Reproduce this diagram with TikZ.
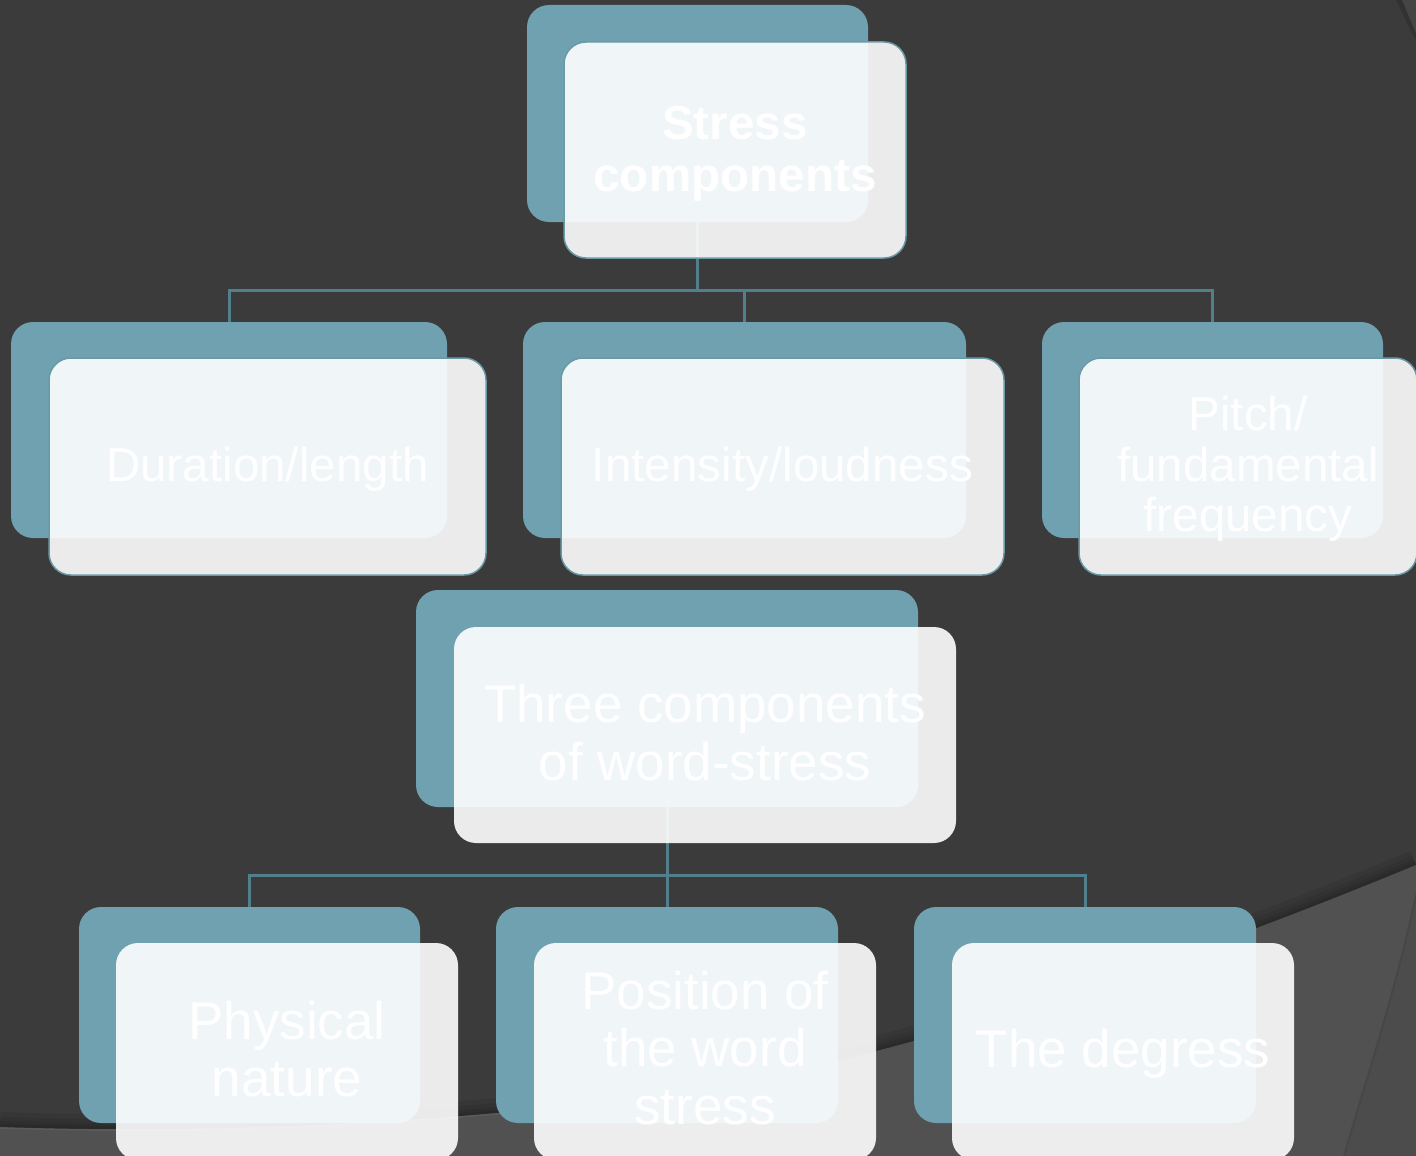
\documentclass[tikz,border=0pt]{standalone}
\usepackage{fontspec}
\setmainfont{Liberation Sans}
\definecolor{bgdark}{HTML}{3B3B3B}
\definecolor{bglight}{HTML}{515151}
\definecolor{bgright}{HTML}{4C4C4C}
\definecolor{cornergray}{HTML}{454545}
\definecolor{edgelight}{HTML}{5A5A5A}
\definecolor{edgedark}{HTML}{474747}
\definecolor{tealback}{HTML}{6FA1B0}
\definecolor{tealedge}{HTML}{6A9AA8}
\definecolor{connteal}{HTML}{527F8C}
\begin{document}
\begin{tikzpicture}[x=1pt,y=-1pt,
  backbox/.style={fill=tealback, rounded corners=22pt, inner sep=0pt, outer sep=0pt},
  frontbox/.style={fill=white, fill opacity=0.9, rounded corners=22pt, inner sep=0pt, outer sep=0pt},
  frontA/.style={frontbox, draw=tealedge, draw opacity=1, line width=1.5pt},
  conn/.style={draw=connteal, line width=3pt},
  txtA/.style={text=white, align=center, inner sep=0pt, font=\fontsize{47.6}{52}\selectfont},
  txtB/.style={text=white, align=center, inner sep=0pt, font=\fontsize{53}{57.5}\selectfont}
]
\useasboundingbox (0,0) rectangle (1416,1156);
% background
\fill[bgdark] (0,0) rectangle (1416,1156);
% top-right sliver
\fill[black, opacity=0.15] (1396,0) .. controls (1402,12) and (1408,26) .. (1416,40) -- (1416,0) -- cycle;
\fill[cornergray] (1402,0) .. controls (1407,11) and (1411,22) .. (1416,33) -- (1416,0) -- cycle;
% shadow along lower boundary
\foreach \w in {30,20,12,6}{
  \draw[black, opacity=0.07, line width=\w pt]
    (0,1127) .. controls (200,1134) and (450,1125) .. (700,1090)
    .. controls (900,1055) and (1150,975) .. (1416,865);
}
% lighter lower region
\fill[bglight] (0,1127) .. controls (200,1134) and (450,1125) .. (700,1090)
    .. controls (900,1055) and (1150,975) .. (1416,865) -- (1416,1156) -- (0,1156) -- cycle;
\draw[edgelight, line width=1.5pt] (0,1128) .. controls (200,1135) and (450,1126) .. (700,1091);
% right darker sliver
\fill[bgright] (1416,895) .. controls (1396,990) and (1366,1080) .. (1344,1156) -- (1416,1156) -- cycle;
\draw[edgedark, line width=2pt] (1416,895) .. controls (1396,990) and (1366,1080) .. (1344,1156);

% back boxes
\node[backbox, minimum width=341pt, minimum height=217pt] (sb) at (697.5,113.5) {};
\node[backbox, minimum width=436pt, minimum height=216pt] (db) at (229,430) {};
\node[backbox, minimum width=443pt, minimum height=216pt] (ib) at (744.5,430) {};
\node[backbox, minimum width=341pt, minimum height=216pt] (pb) at (1212.5,430) {};
\node[backbox, minimum width=502pt, minimum height=217pt] (tb) at (667,698.5) {};
\node[backbox, minimum width=341pt, minimum height=216pt] (phb) at (249.5,1015) {};
\node[backbox, minimum width=342pt, minimum height=216pt] (pob) at (667,1015) {};
\node[backbox, minimum width=342pt, minimum height=216pt] (deb) at (1085,1015) {};

% connectors
\coordinate (bus1) at (697.5,290);
\coordinate (bus2) at (667,875);
\draw[conn] (sb.south) -- (bus1);
\draw[conn] (bus1) -| (db.north);
\draw[conn] (bus1) -| (ib.north);
\draw[conn] (bus1) -| (pb.north);
\draw[conn] (tb.south) -- (bus2);
\draw[conn] (bus2) -| (phb.north);
\draw[conn] (bus2) -- (pob.north);
\draw[conn] (bus2) -| (deb.north);

% front boxes
\node[frontA, minimum width=342pt, minimum height=216pt] (sf) at (735,150) {};
\node[frontA, minimum width=437pt, minimum height=217pt] (df) at (267.5,466.5) {};
\node[frontA, minimum width=443pt, minimum height=217pt] (if) at (782.5,466.5) {};
\node[frontA, minimum width=338pt, minimum height=217pt] (pf) at (1248,466.5) {};
\node[frontbox, minimum width=502pt, minimum height=216pt] (tf) at (705,735) {};
\node[frontbox, minimum width=342pt, minimum height=217pt] (phf) at (287,1051.5) {};
\node[frontbox, minimum width=342pt, minimum height=217pt] (pof) at (705,1051.5) {};
\node[frontbox, minimum width=342pt, minimum height=217pt] (def) at (1123,1051.5) {};

% texts
\node[txtA, font=\fontsize{47.6}{52}\selectfont\bfseries] (st) at (735,153.5) {Stress\\components};
\node[txtA] (dt) at (267.5,469.5) {Duration/length};
\node[txtA] (it) at (782.5,469.5) {Intensity/loudness};
\node[txtA, font=\fontsize{47.6}{50.5}\selectfont] (pt) at (1248,469) {Pitch/\\fundamental\\frequency};
\node[txtB] (tt) at (705,732.5) {Three components\\of word-stress};
\node[txtB] (pht) at (287,1049) {Physical\\nature};
\node[txtB] (pot) at (705,1048) {Position of\\the word\\stress};
\node[txtB] (det) at (1123,1054) {The degress};
\end{tikzpicture}
\end{document}
